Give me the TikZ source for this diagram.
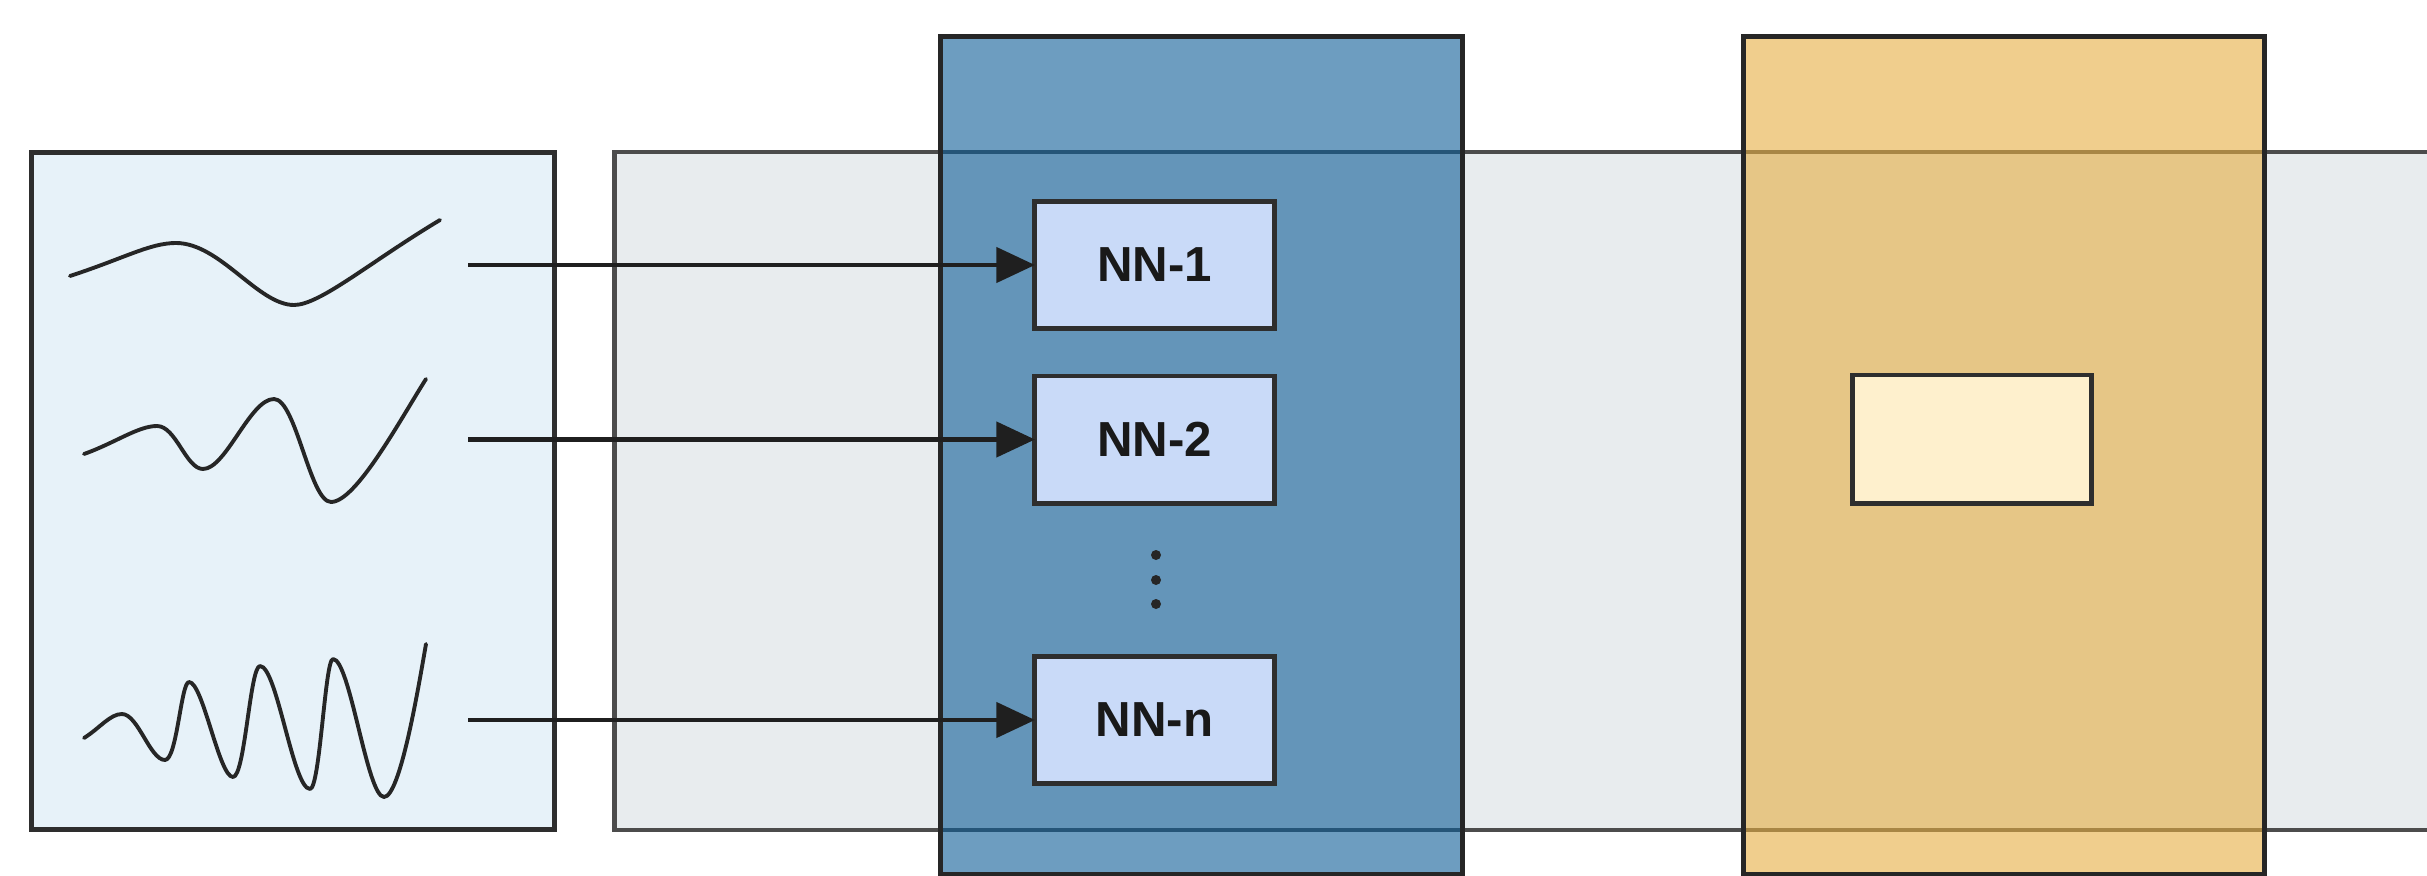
\documentclass[tikz,border=0pt]{standalone}
\usepackage{fontspec}
\newfontfamily\nnfont{Liberation Sans}
\usetikzlibrary{arrows.meta}
\definecolor{srcfill}{HTML}{E7F2F9}
\definecolor{bandfill}{HTML}{E8ECEE}
\definecolor{ensfill}{RGB}{12,92,150}
\definecolor{aggfill}{RGB}{230,173,65}
\definecolor{nnfill}{HTML}{C9DAF8}
\definecolor{outfill}{HTML}{FEF0CD}
\definecolor{edge}{HTML}{2E2E2E}
\tikzset{
  box/.style={draw=edge, line width=1.4pt, inner sep=0pt, outer sep=0pt, rectangle},
  nnbox/.style={box, fill=nnfill, minimum width=2.39cm, minimum height=1.27cm,
    font=\nnfont\bfseries\fontsize{14}{16}\selectfont, text=black!90},
  feed/.style={draw=black!88, line width=1.2pt, -{Triangle[length=11pt,width=10pt]}},
  wave/.style={draw=black!85, line width=1.1pt, line join=round, line cap=round},
  dot/.style={circle, fill=black!85, inner sep=0pt, minimum size=0.1cm}
}
\begin{document}
\begin{tikzpicture}[x=0.01cm, y=-0.01cm]
  \useasboundingbox (0,0) rectangle (2427,876);
  \clip (0,0) rectangle (2427,876);

  % input signals panel
  \node[box, fill=srcfill, minimum width=5.22cm, minimum height=6.76cm] (src) at (293,491) {};
  % long processing band
  \node[box, draw=black!70, line width=1.2pt, fill=bandfill, minimum width=18.3cm, minimum height=6.78cm] (band) at (1530,491) {};

  % signal curves: slow, medium and fast oscillation
  \draw[wave] (70,276) .. controls (125,258) and (150,243) .. (176,243)
    .. controls (220,243) and (258,305) .. (294,305)
    .. controls (320,305) and (370,262) .. (440,220);
  \draw[wave] (84,454) .. controls (115,443) and (138,426) .. (157,426)
    .. controls (176,426) and (186,469) .. (203,469)
    .. controls (226,469) and (250,399) .. (274,399)
    .. controls (296,399) and (310,502) .. (331,502)
    .. controls (356,502) and (400,420) .. (426,379);
  \draw[wave] (84,738) .. controls (100,728) and (110,714) .. (122,714)
    .. controls (138,714) and (150,760) .. (165,760)
    .. controls (177,760) and (181,682) .. (189,682)
    .. controls (203,682) and (219,777) .. (233,777)
    .. controls (245,777) and (250,666) .. (260,666)
    .. controls (277,666) and (293,789) .. (310,789)
    .. controls (320,789) and (325,659) .. (333,659)
    .. controls (350,659) and (367,797) .. (384,797)
    .. controls (400,797) and (418,690) .. (426,644);

  % ensemble block and aggregation block (translucent)
  \node[box, draw=black!85, fill=ensfill, fill opacity=0.6, minimum width=5.21cm, minimum height=8.37cm] (ens) at (1201.5,455.5) {};
  \node[box, draw=black!85, fill=aggfill, fill opacity=0.6, minimum width=5.2cm, minimum height=8.37cm] (agg) at (2004,455.5) {};

  % networks
  \node[nnbox] (nn1) at (1154.5,265) {NN-1};
  \node[nnbox] (nn2) at (1154.5,439.5) {NN-2};
  \node[nnbox] (nnn) at (1154.5,720) {NN-n};
  \node[dot] (d1) at (1156,555) {};
  \node[dot] (d2) at (1156,580) {};
  \node[dot] (d3) at (1156,604) {};

  % output cell
  \node[box, fill=outfill, minimum width=2.38cm, minimum height=1.28cm] (out) at (1972,439) {};

  % feeds from each signal to its network
  \coordinate (s1) at (468,265);
  \coordinate (s2) at (468,439.5);
  \coordinate (sn) at (468,720);
  \draw[feed] (s1) -- (nn1.west);
  \draw[feed] (s2) -- (nn2.west);
  \draw[feed] (sn) -- (nnn.west);
\end{tikzpicture}
\end{document}
